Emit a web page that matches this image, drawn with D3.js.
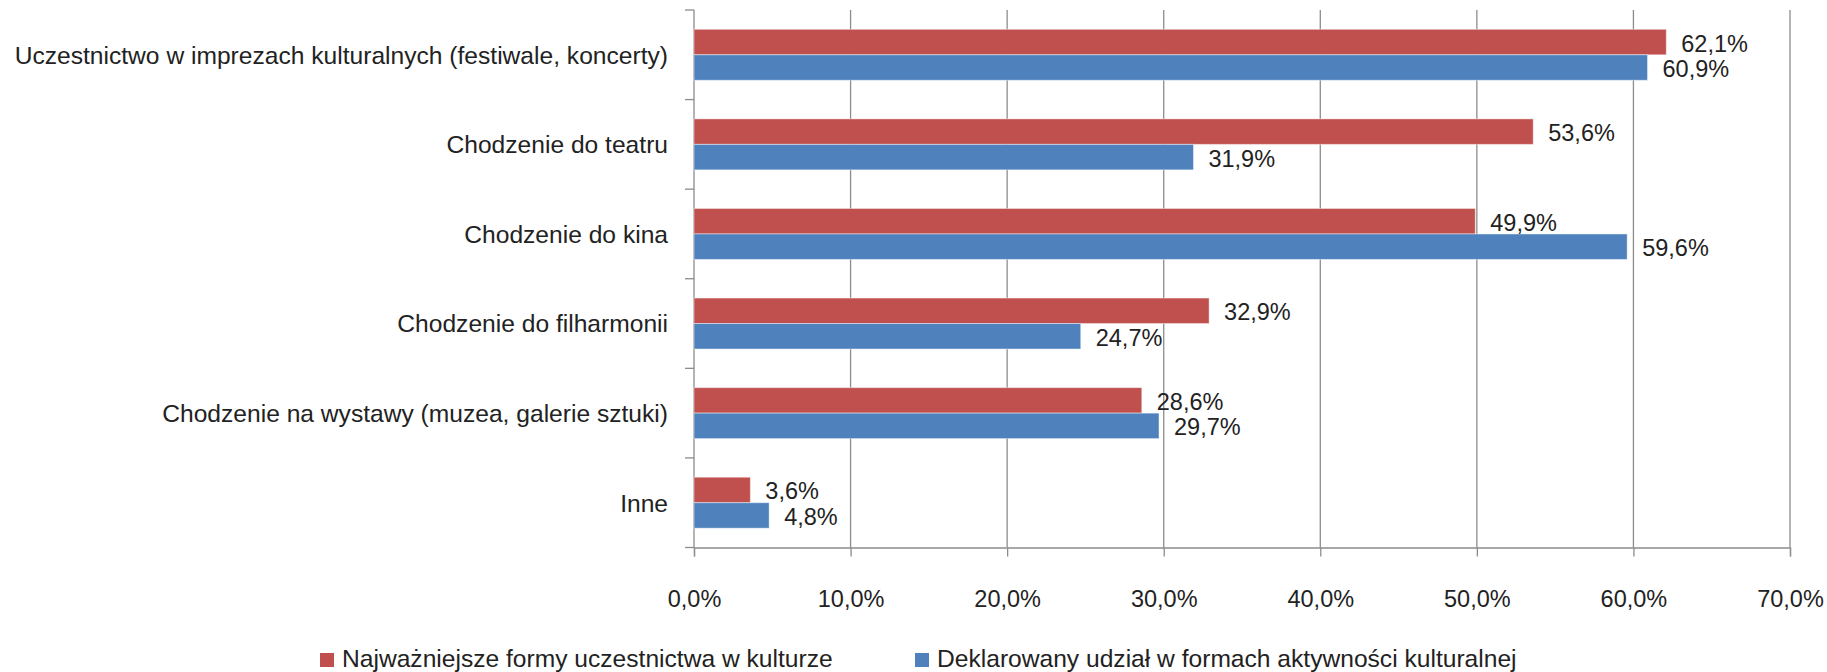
<!DOCTYPE html>
<html>
<head>
<meta charset="utf-8">
<script src="https://cdn.jsdelivr.net/npm/d3@7"></script>
<style>
  body { margin: 0; background: #fff; }
  svg text { font-family: "Liberation Sans", Arial, sans-serif; fill: #222; }
</style>
</head>
<body>
<div id="chart"></div>
<script>
// categories, top to bottom
let categories = [
    "Uczestnictwo w imprezach kulturalnych (festiwale, koncerty)",
    "Chodzenie do teatru",
    "Chodzenie do kina",
    "Chodzenie do filharmonii",
    "Chodzenie na wystawy (muzea, galerie sztuki)",
    "Inne"
];
let seriesNames = [
    "Najważniejsze formy uczestnictwa w kulturze",
    "Deklarowany udział w formach aktywności kulturalnej"
];
let najwazniejsze = [62.1, 53.6, 49.9, 32.9, 28.6, 3.6];
let deklarowany = [60.9, 31.9, 59.6, 24.7, 29.7, 4.8];
let xTicks = [0, 10, 20, 30, 40, 50, 60, 70];
let colors = ["#C0504D", "#4F81BD"];

let svgWidth = 1827;
let svgHeight = 672;

let svg = d3.select("#chart")
    .append("svg")
    .attr("width", svgWidth)
    .attr("height", svgHeight);

let plLocale = d3.formatLocale({ decimal: ",", thousands: " ", grouping: [3], currency: ["", " zł"] });
let fmt = plLocale.format(".1f");
let pct = v => fmt(v) + "%";

// scales
let xScale = d3.scaleLinear()
    .domain([0, 70])
    .range([694, 1790]);

let yScale = d3.scaleBand()
    .domain(categories)
    .range([10, 547.5]);

let ySub = d3.scaleBand()
    .domain([0, 1])
    .range([0, yScale.bandwidth()])
    .paddingOuter(0.757);

let gridColor = "#8c8c8c";

// vertical gridlines
svg.append("g")
    .selectAll("line")
    .data(xTicks.slice(1))
    .enter()
    .append("line")
    .attr("x1", d => xScale(d))
    .attr("x2", d => xScale(d))
    .attr("y1", 10)
    .attr("y2", 547.5)
    .attr("stroke", gridColor)
    .attr("stroke-width", 1.3);

// x axis
let xAxis = d3.axisBottom(xScale)
    .tickValues(xTicks)
    .tickSize(9)
    .tickPadding(34)
    .tickFormat(pct);

let xg = svg.append("g")
    .attr("transform", "translate(0, 547.5)")
    .call(xAxis);
xg.select(".domain").attr("stroke", gridColor).attr("stroke-width", 1.3);
xg.selectAll(".tick line").attr("stroke", gridColor).attr("stroke-width", 1.3);
xg.selectAll(".tick text")
    .attr("font-size", "23.5px")
    .attr("font-family", "Liberation Sans, Arial, sans-serif")
    .attr("fill", "#222");

// y axis: ticks sit between categories
let yg = svg.append("g");
yg.append("line")
    .attr("x1", xScale(0)).attr("x2", xScale(0))
    .attr("y1", 10).attr("y2", 547.5)
    .attr("stroke", gridColor).attr("stroke-width", 1.3);
yg.selectAll(".ytick")
    .data(d3.range(categories.length + 1))
    .enter()
    .append("line")
    .attr("x1", xScale(0) - 9)
    .attr("x2", xScale(0))
    .attr("y1", i => 10 + i * yScale.step())
    .attr("y2", i => 10 + i * yScale.step())
    .attr("stroke", gridColor).attr("stroke-width", 1.3);

yg.selectAll(".ylabel")
    .data(categories)
    .enter()
    .append("text")
    .attr("x", 668)
    .attr("y", d => yScale(d) + yScale.bandwidth() / 2)
    .attr("dy", "0.36em")
    .attr("text-anchor", "end")
    .attr("font-size", "24.6px")
    .text(d => d);

// bars
let rows = categories.map((c, i) => ({ cat: c, vals: [najwazniejsze[i], deklarowany[i]] }));

let groups = svg.selectAll(".grp")
    .data(rows)
    .enter()
    .append("g")
    .attr("transform", d => `translate(0, ${yScale(d.cat)})`);

groups.selectAll("rect")
    .data(d => d.vals.map((v, s) => ({ v: v, s: s })))
    .enter()
    .append("rect")
    .attr("x", xScale(0))
    .attr("y", d => ySub(d.s))
    .attr("width", d => xScale(d.v) - xScale(0))
    .attr("height", ySub.bandwidth())
    .attr("fill", d => colors[d.s])
    .attr("stroke", "#fff")
    .attr("stroke-opacity", 0.45)
    .attr("stroke-width", 1);

groups.selectAll(".val")
    .data(d => d.vals.map((v, s) => ({ v: v, s: s })))
    .enter()
    .append("text")
    .attr("x", d => xScale(d.v) + 15)
    .attr("y", d => ySub(d.s) + ySub.bandwidth() / 2 + 1)
    .attr("dy", "0.36em")
    .attr("font-size", "23.5px")
    .text(d => pct(d.v));

// legend
let legendX = [320, 915];
let legend = svg.selectAll(".leg")
    .data(seriesNames)
    .enter()
    .append("g")
    .attr("transform", (d, i) => `translate(${legendX[i]}, 653)`);

legend.append("rect")
    .attr("width", 14)
    .attr("height", 14)
    .attr("fill", (d, i) => colors[i]);

legend.append("text")
    .attr("x", 22)
    .attr("y", 14)
    .attr("font-size", "24.6px")
    .text(d => d);
</script>
</body>
</html>
